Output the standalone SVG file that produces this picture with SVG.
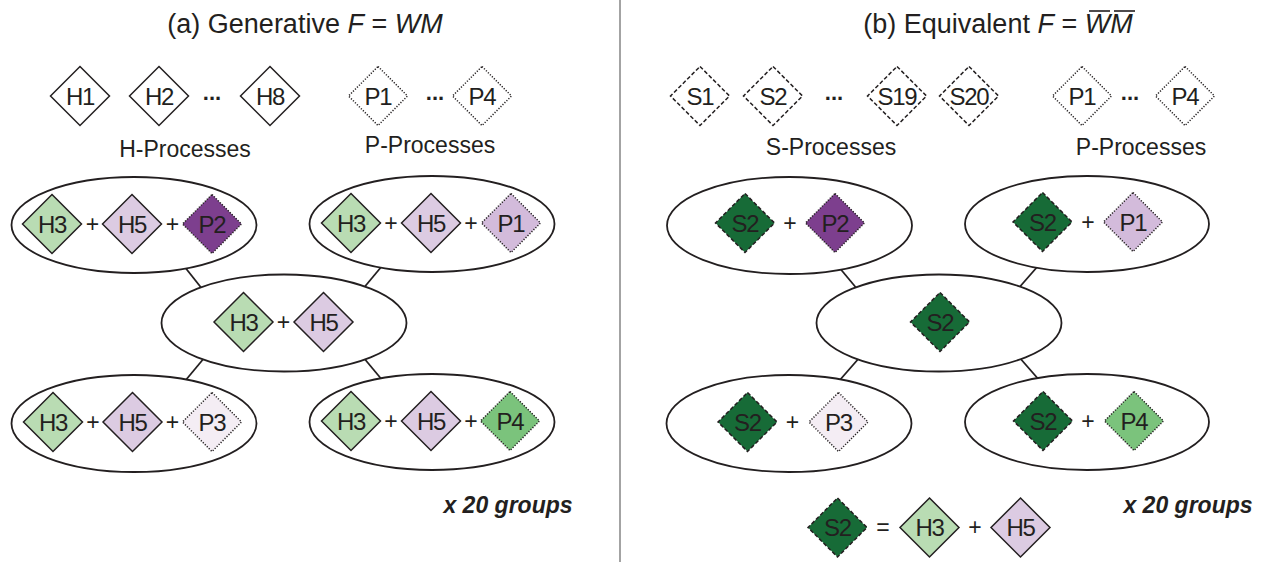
<svg xmlns="http://www.w3.org/2000/svg" xmlns:xlink="http://www.w3.org/1999/xlink" width="1265" height="562" viewBox="0 0 1265 562">
  <style>
    text { fill: #231f20; }
    .title { font-family: 'Liberation Sans', Arial, sans-serif; font-size: 27px; text-anchor: middle; }
    .it { font-style: italic; }
    .cap { font-family: 'Liberation Sans', Arial, sans-serif; font-size: 23px; text-anchor: middle; }
    .lbl { font-family: 'Liberation Sans', Arial, sans-serif; font-size: 24px; letter-spacing: -1.3px; text-anchor: middle; }
    .op { font-family: 'Liberation Sans', Arial, sans-serif; font-size: 23px; text-anchor: middle; }
    .dots { font-family: 'Liberation Sans', Arial, sans-serif; font-size: 22px; font-weight: bold; text-anchor: middle; }
    .grp { font-family: 'Liberation Sans', Arial, sans-serif; font-size: 23px; font-weight: bold; font-style: italic; text-anchor: middle; }
    .d { stroke: #231f20; stroke-width: 1.5; fill: #ffffff; }
    .dash { stroke-dasharray: 4 2.2; }
    .dot { stroke-dasharray: 1.2 1.6; }
    .ell { fill: #ffffff; stroke: #231f20; stroke-width: 1.8; }
    .conn line { stroke: #231f20; stroke-width: 1.8; }
    .g1 { fill: #b9dcb3; }
    .p1 { fill: #dccbe2; }
    .pp { fill: #7d3f8e; }
    .pl { fill: #d3bbdb; }
    .pw { fill: #f4edf4; }
    .gm { fill: #7bc37c; }
    .gd { fill: #176b37; }
  </style>
  <defs>
    <path id="dia" d="M0,-29.5 L29.5,0 L0,29.5 L-29.5,0 Z"/>
  </defs>

  <!-- panel divider -->
  <line x1="620" y1="0" x2="620" y2="562" stroke="#a3a3a3" stroke-width="2"/>

  <!-- titles -->
  <text class="title" x="305" y="33">(a) Generative <tspan class="it">F</tspan> = <tspan class="it">WM</tspan></text>
  <text class="title" x="998" y="33">(b) Equivalent <tspan class="it">F</tspan> = <tspan class="it">WM</tspan></text>
  <line x1="1089" y1="11" x2="1110" y2="11" stroke="#231f20" stroke-width="1.6"/>
  <line x1="1114" y1="11" x2="1135" y2="11" stroke="#231f20" stroke-width="1.6"/>

  <!-- process inventories, panel (a) -->
  <g id="h1"><use href="#dia" x="80" y="96" class="d"/><text class="lbl" x="80" y="104.5">H1</text></g>
  <g id="h2"><use href="#dia" x="159" y="96" class="d"/><text class="lbl" x="159" y="104.5">H2</text></g>
  <text class="dots" x="212" y="100">...</text>
  <g id="h8"><use href="#dia" x="270" y="96" class="d"/><text class="lbl" x="270" y="104.5">H8</text></g>
  <g id="a-p1"><use href="#dia" x="378" y="96" class="d dot"/><text class="lbl" x="378" y="104.5">P1</text></g>
  <text class="dots" x="435" y="100">...</text>
  <g id="a-p4"><use href="#dia" x="482" y="96" class="d dot"/><text class="lbl" x="482" y="104.5">P4</text></g>
  <text class="cap" x="185" y="157">H-Processes</text>
  <text class="cap" x="430" y="153">P-Processes</text>

  <!-- process inventories, panel (b) -->
  <g id="s1"><use href="#dia" x="700" y="96" class="d dash"/><text class="lbl" x="700" y="104.5">S1</text></g>
  <g id="s2"><use href="#dia" x="773" y="96" class="d dash"/><text class="lbl" x="773" y="104.5">S2</text></g>
  <text class="dots" x="834" y="100">...</text>
  <g id="s19"><use href="#dia" x="897" y="96" class="d dash"/><text class="lbl" x="897" y="104.5">S19</text></g>
  <g id="s20"><use href="#dia" x="969" y="96" class="d dash"/><text class="lbl" x="969" y="104.5">S20</text></g>
  <g id="b-p1"><use href="#dia" x="1082" y="96" class="d dot"/><text class="lbl" x="1082" y="104.5">P1</text></g>
  <text class="dots" x="1130" y="100">...</text>
  <g id="b-p4"><use href="#dia" x="1185" y="96" class="d dot"/><text class="lbl" x="1185" y="104.5">P4</text></g>
  <text class="cap" x="831" y="155">S-Processes</text>
  <text class="cap" x="1141" y="155">P-Processes</text>

  <!-- connectors between group ellipses -->
  <g id="connectors" class="conn">
    <line x1="184" y1="266" x2="203" y2="290"/>
    <line x1="382" y1="266" x2="362" y2="290"/>
    <line x1="205" y1="357" x2="185" y2="381"/>
    <line x1="363" y1="357" x2="383" y2="381"/>
    <line x1="838" y1="266" x2="858" y2="290"/>
    <line x1="1038" y1="266" x2="1017" y2="290"/>
    <line x1="860" y1="357" x2="839" y2="381"/>
    <line x1="1019" y1="357" x2="1040" y2="381"/>
  </g>

  <!-- panel (a) groups -->
  <g id="a-tl">
    <ellipse class="ell" cx="134" cy="225" rx="122.5" ry="48"/>
    <use href="#dia" x="52" y="224" class="d g1"/><text class="lbl" x="52" y="232.5">H3</text>
    <text class="op" x="92.5" y="232">+</text>
    <use href="#dia" x="132" y="224" class="d p1"/><text class="lbl" x="132" y="232.5">H5</text>
    <text class="op" x="172.5" y="232">+</text>
    <use href="#dia" x="212" y="224" class="d dot pp"/><text class="lbl" x="212" y="232.5">P2</text>
  </g>
  <g id="a-tr">
    <ellipse class="ell" cx="432" cy="224" rx="122.5" ry="48"/>
    <use href="#dia" x="351" y="223" class="d g1"/><text class="lbl" x="351" y="231.5">H3</text>
    <text class="op" x="391" y="231">+</text>
    <use href="#dia" x="431" y="223" class="d p1"/><text class="lbl" x="431" y="231.5">H5</text>
    <text class="op" x="471" y="231">+</text>
    <use href="#dia" x="511" y="223" class="d dot pl"/><text class="lbl" x="511" y="231.5">P1</text>
  </g>
  <g id="a-center">
    <ellipse class="ell" cx="284" cy="323" rx="122.5" ry="48.5"/>
    <use href="#dia" x="243.5" y="322" class="d g1"/><text class="lbl" x="243.5" y="330.5">H3</text>
    <text class="op" x="283.5" y="330">+</text>
    <use href="#dia" x="323.5" y="322" class="d p1"/><text class="lbl" x="323.5" y="330.5">H5</text>
  </g>
  <g id="a-bl">
    <ellipse class="ell" cx="134" cy="423.5" rx="122.5" ry="48.5"/>
    <use href="#dia" x="53" y="422" class="d g1"/><text class="lbl" x="53" y="430.5">H3</text>
    <text class="op" x="93" y="430">+</text>
    <use href="#dia" x="132.5" y="422" class="d p1"/><text class="lbl" x="132.5" y="430.5">H5</text>
    <text class="op" x="172.5" y="430">+</text>
    <use href="#dia" x="212" y="422" class="d dot pw"/><text class="lbl" x="212" y="430.5">P3</text>
  </g>
  <g id="a-br">
    <ellipse class="ell" cx="432" cy="422" rx="122.5" ry="48"/>
    <use href="#dia" x="351" y="421" class="d g1"/><text class="lbl" x="351" y="429.5">H3</text>
    <text class="op" x="391" y="429">+</text>
    <use href="#dia" x="431" y="421" class="d p1"/><text class="lbl" x="431" y="429.5">H5</text>
    <text class="op" x="471" y="429">+</text>
    <use href="#dia" x="510" y="421" class="d dot gm"/><text class="lbl" x="510" y="429.5">P4</text>
  </g>
  <text class="grp" x="508" y="513">x 20 groups</text>

  <!-- panel (b) groups -->
  <g id="b-tl">
    <ellipse class="ell" cx="789.5" cy="225.5" rx="122.5" ry="48.5"/>
    <use href="#dia" x="745" y="223" class="d dash gd"/><text class="lbl" x="745" y="231.5">S2</text>
    <text class="op" x="790" y="231">+</text>
    <use href="#dia" x="835" y="223" class="d dot pp"/><text class="lbl" x="835" y="231.5">P2</text>
  </g>
  <g id="b-tr">
    <ellipse class="ell" cx="1087" cy="224" rx="122" ry="48"/>
    <use href="#dia" x="1042.5" y="222" class="d dash gd"/><text class="lbl" x="1042.5" y="230.5">S2</text>
    <text class="op" x="1088" y="230">+</text>
    <use href="#dia" x="1133" y="222" class="d dot pl"/><text class="lbl" x="1133" y="230.5">P1</text>
  </g>
  <g id="b-center">
    <ellipse class="ell" cx="939" cy="323" rx="122.5" ry="48.5"/>
    <use href="#dia" x="940" y="322" class="d dash gd"/><text class="lbl" x="940" y="330.5">S2</text>
  </g>
  <g id="b-bl">
    <ellipse class="ell" cx="789" cy="423.5" rx="122.5" ry="48.5"/>
    <use href="#dia" x="747.5" y="422" class="d dash gd"/><text class="lbl" x="747.5" y="430.5">S2</text>
    <text class="op" x="792.5" y="430">+</text>
    <use href="#dia" x="838.5" y="422" class="d dot pw"/><text class="lbl" x="838.5" y="430.5">P3</text>
  </g>
  <g id="b-br">
    <ellipse class="ell" cx="1087" cy="422" rx="122" ry="48"/>
    <use href="#dia" x="1043" y="421" class="d dash gd"/><text class="lbl" x="1043" y="429.5">S2</text>
    <text class="op" x="1088" y="429">+</text>
    <use href="#dia" x="1134" y="421" class="d dot gm"/><text class="lbl" x="1134" y="429.5">P4</text>
  </g>
  <text class="grp" x="1188" y="513">x 20 groups</text>

  <!-- legend: S2 composition -->
  <g id="legend">
    <use href="#dia" x="837.5" y="527.5" class="d dash gd"/><text class="lbl" x="837.5" y="536">S2</text>
    <text class="op" x="883" y="535">=</text>
    <use href="#dia" x="929.5" y="527.5" class="d g1"/><text class="lbl" x="929.5" y="536">H3</text>
    <text class="op" x="975" y="535">+</text>
    <use href="#dia" x="1020.5" y="527.5" class="d p1"/><text class="lbl" x="1020.5" y="536">H5</text>
  </g>
</svg>
